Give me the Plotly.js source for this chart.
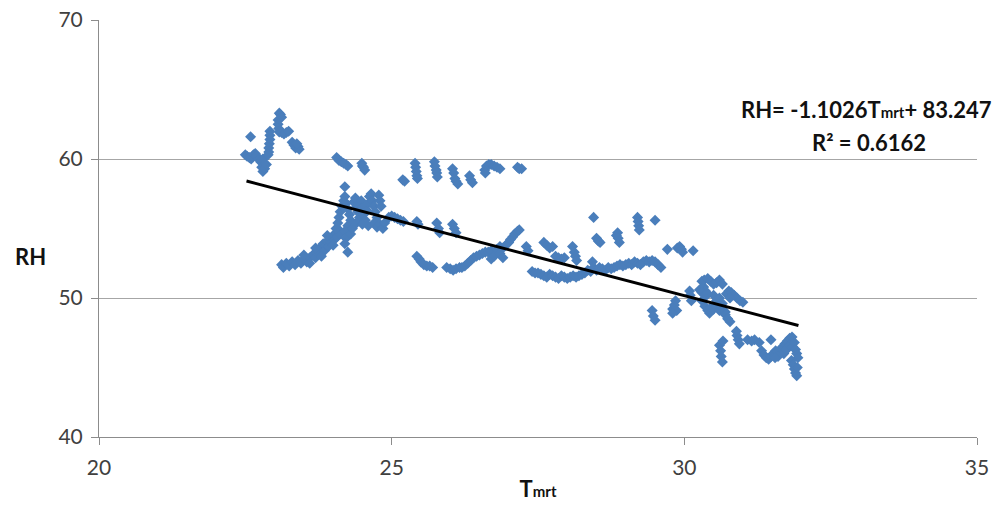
<!DOCTYPE html>
<html>
<head>
<meta charset="utf-8">
<script src="https://cdn.plot.ly/plotly-3.0.1.min.js"></script>
<style>html,body{margin:0;padding:0;background:#fff;}#chart{width:1003px;height:506px;}</style>
</head>
<body>
<div id="chart"></div>
<script>
// Tmrt (x) and RH (y) values
const tmrt = [
 22.59,
 22.50,22.53,22.57,22.60,22.64,22.67,22.70,22.73,22.76,22.80,22.78,22.80,22.83,22.86,
 22.92,22.92,22.92,22.91,22.90,22.90,22.89,
 23.08,23.10,23.12,23.06,23.06,23.07,23.08,23.12,23.16,23.20,23.24,
 23.30,23.33,23.36,23.40,23.42,23.38,
 23.12,23.15,23.20,23.25,23.30,23.35,23.40,23.45,23.50,23.55,23.60,23.65,23.70,23.72,23.75,23.78,23.80,23.83,23.85,23.88,23.90,23.92,23.95,23.97,24.00,24.02,24.05,24.07,24.10,24.12,
 23.50,23.60,23.70,23.80,23.90,24.00,
 24.05,24.08,24.10,24.12,24.15,24.18,24.20,24.22,24.25,24.28,24.30,24.25,24.20,24.22,24.20,24.25,24.30,24.33,24.35,24.38,24.40,24.42,24.45,24.40,24.48,24.50,24.52,24.55,24.58,24.60,24.62,24.65,24.67,24.70,24.72,24.75,24.78,24.80,24.82,24.70,24.75,24.80,24.85,24.88,24.60,24.50,
 24.95,25.00,25.05,25.10,25.15,25.20,25.43,25.45,25.77,25.80,25.82,26.04,26.07,26.10,
 24.06,24.10,24.14,24.18,24.22,24.25,24.49,24.50,24.52,24.54,
 24.20,
 25.19,25.22,
 25.40,25.41,25.42,25.43,25.44,
 25.73,25.74,25.76,25.77,25.78,
 26.04,26.06,26.08,26.10,26.13,
 26.33,26.35,26.38,
 26.59,26.62,26.66,26.70,26.75,26.80,26.85,26.60,
 27.15,27.18,27.22,
 25.43,25.47,25.50,25.55,25.60,25.65,25.70,25.94,26.00,26.05,26.10,26.16,
 26.20,26.25,26.30,
 26.35,26.40,26.45,26.50,26.55,26.60,26.65,26.70,
 26.70,26.75,26.80,26.85,26.90,26.95,27.00,26.85,26.90,
 27.03,27.07,27.10,27.15,27.18,
 27.30,27.33,
 27.60,27.65,27.70,27.75,
 27.80,27.85,27.90,27.95,
 28.09,28.12,28.14,28.16,
 27.40,27.45,27.50,27.55,27.60,27.65,27.70,27.75,27.80,27.85,27.90,27.95,28.00,28.05,28.10,28.15,28.20,28.25,28.30,
 28.45,
 28.50,28.53,28.56,
 28.84,28.86,28.87,28.89,
 29.20,29.21,29.22,29.23,
 29.50,
 29.71,
 29.88,29.92,29.95,29.97,
 30.15,
 28.35,28.40,28.43,28.45,28.50,28.55,28.60,28.65,28.70,28.75,28.80,28.85,28.90,28.95,29.00,29.05,29.10,29.15,29.20,29.25,29.30,29.35,29.40,29.45,29.50,29.55,29.60,
 29.45,29.47,29.50,
 29.80,29.83,29.85,29.87,29.80,
 30.09,30.10,30.12,
 30.30,30.33,30.36,30.38,30.30,30.35,30.40,30.43,
 30.34,30.40,30.45,30.50,30.55,30.60,30.65,
 30.26,30.30,30.35,30.40,
 30.45,30.50,30.55,30.60,30.65,30.70,
 30.50,30.55,30.60,30.65,
 30.72,30.76,30.80,30.85,30.90,30.95,31.00,30.78,
 30.70,30.74,30.78,
 30.89,30.90,30.92,30.94,
 30.60,30.62,30.63,30.65,30.66,
 31.08,31.15,31.20,31.28,
 31.48,
 31.32,31.36,31.40,31.44,
 31.48,31.52,31.56,31.60,31.64,31.68,31.72,31.76,31.80,31.84,31.70,31.75,31.80,31.85,31.88,31.90,31.92,31.94,31.60,31.55,
 31.83,31.86,31.88,31.90,31.92,31.93
];
const rh = [
 61.6,
 60.3,60.2,60.1,60.0,60.3,60.4,60.2,60.0,59.8,60.0,59.4,59.1,59.3,59.6,
 62.0,61.7,61.4,61.1,60.8,60.5,60.3,
 63.3,63.2,63.0,62.8,62.5,62.2,61.95,61.9,61.8,61.9,62.0,
 61.2,61.0,60.8,60.9,60.7,61.1,
 52.4,52.2,52.5,52.3,52.6,52.4,52.7,52.5,52.8,52.6,52.9,53.1,52.9,53.3,53.5,53.2,53.6,53.9,53.4,53.8,54.1,53.7,54.3,54.0,54.5,54.2,54.7,54.4,54.9,54.6,
 53.1,52.5,53.6,53.0,54.5,53.8,
 55.0,55.4,55.8,56.2,56.6,57.0,57.3,56.8,56.4,56.0,55.6,55.2,54.8,54.3,53.9,53.3,54.6,55.0,56.9,57.2,56.6,56.2,55.8,55.4,57.0,56.5,56.0,55.6,56.3,56.8,57.3,57.5,57.0,56.6,56.2,55.8,57.4,57.0,56.6,55.4,55.1,55.3,55.0,55.4,55.2,55.3,
 55.8,55.9,55.8,55.7,55.6,55.5,55.5,55.3,55.4,55.0,54.7,55.3,55.0,54.7,
 60.1,59.9,59.8,59.7,59.6,59.5,59.7,59.5,59.4,59.2,
 58.0,
 58.5,58.4,
 59.7,59.4,59.1,58.8,58.6,
 59.8,59.5,59.2,59.0,58.7,
 59.3,59.0,58.6,58.4,58.2,
 58.8,58.5,58.3,
 59.2,59.5,59.6,59.6,59.5,59.4,59.3,59.0,
 59.4,59.3,59.3,
 53.0,52.8,52.6,52.4,52.3,52.3,52.2,52.2,52.1,52.0,52.1,52.2,
 52.2,52.3,52.5,
 52.7,52.9,53.0,53.1,53.2,53.3,53.3,53.4,
 52.8,53.0,53.5,53.7,53.6,53.8,54.0,53.2,52.9,
 54.2,54.4,54.6,54.8,54.9,
 53.7,53.4,
 54.0,53.8,53.6,53.7,
 53.0,52.9,52.8,52.9,
 53.7,53.3,53.0,52.7,
 51.9,51.8,51.8,51.7,51.6,51.5,51.7,51.6,51.5,51.4,51.6,51.5,51.4,51.5,51.6,51.5,51.6,51.7,51.8,
 55.8,
 54.3,54.1,54.0,
 54.5,54.7,54.3,54.0,
 55.8,55.5,55.2,54.9,
 55.6,
 53.5,
 53.6,53.7,53.5,53.3,
 53.4,
 52.0,51.9,52.6,52.2,52.0,52.2,52.1,52.0,52.2,52.1,52.2,52.3,52.4,52.3,52.4,52.5,52.4,52.6,52.5,52.4,52.6,52.7,52.6,52.7,52.6,52.4,52.2,
 49.1,48.7,48.4,
 49.2,49.5,49.8,49.1,48.9,
 50.5,50.2,49.8,
 51.2,50.8,50.5,50.2,49.8,49.4,49.1,48.9,
 51.3,51.4,51.2,51.0,51.1,51.3,51.0,
 50.6,50.4,50.2,50.3,
 49.3,49.2,49.4,49.1,49.3,49.0,
 50.2,49.8,50.0,49.6,
 50.3,50.5,50.4,50.2,50.0,49.8,49.7,50.0,
 48.8,48.5,48.3,
 47.6,47.3,47.0,46.7,
 46.6,46.2,45.8,45.4,46.9,
 47.0,46.9,47.0,46.8,
 47.0,
 46.2,45.9,45.7,45.6,
 45.8,46.0,46.2,46.1,46.3,46.5,46.7,46.9,47.1,47.2,46.0,46.3,46.6,46.5,46.8,46.3,46.0,45.7,45.8,45.7,
 45.5,45.2,44.9,44.6,44.4,45.0
];
// Linear trend shown on the chart: RH = -1.1026*Tmrt + 83.247
const trendSlope = -1.1026;
const trendIntercept = 83.247;
const trendX = [22.52, 31.95];
const trendY = trendX.map(v => trendSlope * v + trendIntercept);

const xTicks = [20, 25, 30, 35];
const yTicks = [40, 50, 60, 70];

const tickFont = {family: 'Lato, "Open Sans", sans-serif', size: 21, color: '#404040'};
const boldFont = {family: 'Lato, sans-serif', size: 22, color: '#111'};

const data = [
 {x: tmrt, y: rh, type: 'scatter', mode: 'markers',
  marker: {symbol: 'diamond', size: 8.5, color: '#4a7ebb'}, hoverinfo: 'skip'},
 {x: trendX, y: trendY, type: 'scatter', mode: 'lines',
  line: {color: '#000000', width: 3}, hoverinfo: 'skip'}
];

const layout = {
 width: 1003, height: 506,
 margin: {l: 99, r: 26, t: 20, b: 69},
 paper_bgcolor: '#ffffff', plot_bgcolor: '#ffffff',
 showlegend: false,
 xaxis: {
  range: [20, 35], tickvals: xTicks, ticktext: xTicks.map(String),
  showgrid: false, zeroline: false, showline: true, linecolor: '#8c8c8c', linewidth: 1,
  ticks: 'outside', ticklen: 7, tickcolor: '#8c8c8c', tickfont: tickFont,
  ticklabelstandoff: 5,
  title: {text: '<b>T<span style="font-size:15px">mrt</span></b>', font: boldFont, standoff: 3}
 },
 yaxis: {
  range: [40, 70], tickvals: yTicks, ticktext: yTicks.map(String),
  showgrid: true, gridcolor: '#a6a6a6', gridwidth: 1, zeroline: false,
  showline: true, linecolor: '#8c8c8c', linewidth: 1,
  ticks: 'outside', ticklen: 7, tickcolor: '#8c8c8c', tickfont: tickFont,
  ticklabelstandoff: 4
 },
 annotations: [
  {xref: 'paper', yref: 'paper', x: -0.078, y: 0.434, xanchor: 'center', yanchor: 'middle', showarrow: false,
   text: '<b>RH</b>', font: boldFont},
  {xref: 'x', yref: 'y', x: 33.12, y: 63.55, xanchor: 'center', yanchor: 'middle', showarrow: false,
   text: '<b>RH= -1.1026T<span style="font-size:15px">mrt</span>+ 83.247</b>', font: boldFont},
  {xref: 'x', yref: 'y', x: 33.15, y: 61.2, xanchor: 'center', yanchor: 'middle', showarrow: false,
   text: '<b>R² = 0.6162</b>', font: boldFont}
 ]
};

Plotly.newPlot('chart', data, layout, {displayModeBar: false, staticPlot: true});
</script>
</body>
</html>
